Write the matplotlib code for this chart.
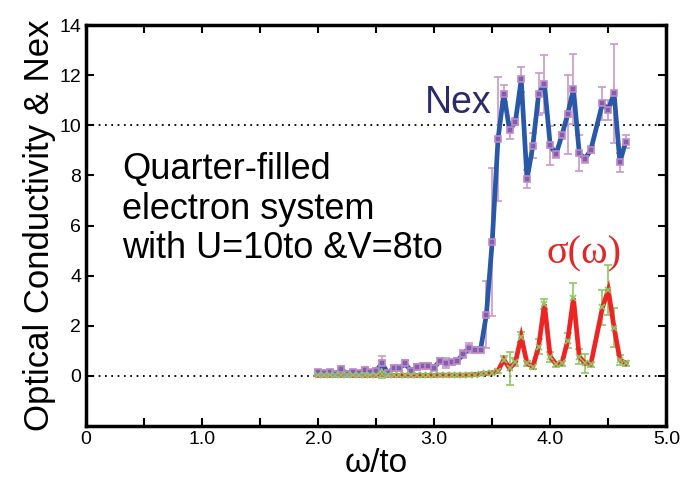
import matplotlib
matplotlib.use('Agg')
import matplotlib.pyplot as plt
from matplotlib.ticker import MultipleLocator

plt.rcParams['font.family'] = ['Liberation Sans', 'DejaVu Sans']

# Nex (blue line, purple squares)
nex_x = [2.00, 2.05, 2.10, 2.15, 2.20, 2.25, 2.30, 2.35, 2.40, 2.45,
         2.50, 2.55, 2.60, 2.65, 2.70, 2.75, 2.80, 2.85, 2.90, 2.95,
         3.00, 3.05, 3.10, 3.15, 3.20, 3.25, 3.30, 3.35, 3.40, 3.45,
         3.50, 3.55, 3.60, 3.65, 3.70, 3.75, 3.80, 3.85, 3.90, 3.95,
         4.00, 4.05, 4.10, 4.15, 4.20, 4.25, 4.30, 4.35, 4.45, 4.50,
         4.55, 4.60, 4.65]
nex_y = [0.15, 0.13, 0.14, 0.08, 0.27, 0.08, 0.15, 0.10, 0.25, 0.15,
         0.20, 0.50, 0.12, 0.30, 0.30, 0.50, 0.20, 0.35, 0.40, 0.40,
         0.33, 0.60, 0.50, 0.55, 0.60, 0.87, 1.10, 1.05, 1.05, 2.45,
         5.35, 9.45, 11.27, 9.80, 10.15, 11.83, 7.85, 9.18, 11.25, 11.65,
         9.20, 8.85, 9.60, 10.44, 11.45, 8.90, 8.65, 9.03, 10.88, 10.62,
         11.28, 8.52, 9.35]
nex_err = [0.10, 0.10, 0.10, 0.10, 0.12, 0.10, 0.10, 0.10, 0.12, 0.10,
           0.10, 0.28, 0.10, 0.12, 0.10, 0.15, 0.10, 0.12, 0.10, 0.10,
           0.10, 0.12, 0.20, 0.12, 0.10, 0.15, 0.20, 0.10, 0.10, 1.33,
           2.95, 2.48, 0.35, 0.33, 0.15, 0.50, 0.35, 0.50, 0.85, 1.17,
           0.78, 0.15, 0.15, 1.57, 1.40, 0.73, 0.15, 0.15, 0.67, 0.40,
           1.98, 0.37, 0.27]

# optical conductivity sigma(w) (red line, green stars)
sig_x = [2.00, 2.05, 2.10, 2.15, 2.20, 2.25, 2.30, 2.35, 2.40, 2.45,
         2.50, 2.55, 2.60, 2.65, 2.70, 2.75, 2.80, 2.85, 2.90, 2.95,
         3.00, 3.05, 3.10, 3.15, 3.20, 3.25, 3.30, 3.35, 3.40, 3.45,
         3.50, 3.55, 3.60, 3.65, 3.70, 3.75, 3.80, 3.85, 3.90, 3.95,
         4.00, 4.05, 4.10, 4.15, 4.20, 4.25, 4.30, 4.35, 4.45, 4.50,
         4.55, 4.60, 4.65]
sig_y = [0.02, 0.02, 0.02, 0.02, 0.02, 0.02, 0.02, 0.02, 0.02, 0.02,
         0.02, 0.08, 0.02, 0.02, 0.02, 0.02, 0.02, 0.02, 0.02, 0.02,
         0.02, 0.03, 0.03, 0.03, 0.03, 0.03, 0.04, 0.05, 0.08, 0.10,
         0.12, 0.20, 0.65, 0.30, 0.55, 1.57, 0.50, 0.37, 1.17, 2.86,
         0.77, 0.47, 0.50, 1.40, 3.10, 0.77, 0.50, 0.47, 2.73, 3.43,
         1.93, 0.65, 0.50]
sig_err = [0.03, 0.03, 0.03, 0.03, 0.03, 0.03, 0.03, 0.03, 0.03, 0.03,
           0.03, 0.15, 0.03, 0.03, 0.03, 0.03, 0.03, 0.03, 0.03, 0.03,
           0.03, 0.03, 0.03, 0.03, 0.03, 0.03, 0.05, 0.05, 0.05, 0.05,
           0.05, 0.08, 0.15, 0.67, 0.15, 0.20, 0.10, 0.10, 0.30, 0.20,
           0.20, 0.10, 0.10, 0.30, 0.60, 0.30, 0.37, 0.10, 0.70, 1.00,
           0.77, 0.20, 0.10]

xticks = [0, 1.0, 2.0, 3.0, 4.0, 5.0]
xticklabels = ['0', '1.0', '2.0', '3.0', '4.0', '5.0']
yticks = [0, 2, 4, 6, 8, 10, 12, 14]

fig = plt.figure(figsize=(6.82, 4.83), dpi=100)
ax = fig.add_axes([0.126, 0.118, 0.851, 0.830])

# dotted reference lines at 0 and 10
ax.axhline(0, color='black', ls=(0, (1, 2.5)), lw=1.3, zorder=1)
ax.axhline(10, color='black', ls=(0, (1, 2.5)), lw=1.3, zorder=1)

ax.errorbar(nex_x, nex_y, yerr=nex_err, fmt='none', ecolor='#c79ac9',
            elinewidth=1.2, capsize=3, capthick=1.2, zorder=2)
ax.plot(nex_x, nex_y, color='#2a58a8', lw=3.4, zorder=3)
ax.plot(nex_x, nex_y, ls='none', marker='s', ms=5, mfc='#7e5fb0',
        mec='#c08ac6', mew=1.2, zorder=4)

ax.errorbar(sig_x, sig_y, yerr=sig_err, fmt='none', ecolor='#8cc864',
            elinewidth=1.2, capsize=3, capthick=1.2, zorder=2)
ax.plot(sig_x, sig_y, color='#ee2424', lw=3.4, solid_joinstyle='miter', zorder=3)
ax.plot(sig_x, sig_y, ls='none', marker='x', ms=4, mec='#8cc864',
        mew=1.2, zorder=4)

ax.set_xlim(0, 5.0)
ax.set_ylim(-2, 14)
ax.set_xticks(xticks)
ax.set_xticklabels(xticklabels)
ax.xaxis.set_minor_locator(MultipleLocator(0.5))
ax.set_yticks(yticks)
ax.tick_params(which='both', direction='in', top=True, right=True,
               labelsize=14, width=1.5, length=6)
for s in ax.spines.values():
    s.set_linewidth(2.5)

ax.set_xlabel('ω/to', fontsize=24, labelpad=0)
ax.set_ylabel('Optical Conductivity & Nex', fontsize=25, labelpad=2)

ax.text(2.92, 10.5, 'Nex', fontsize=27, color='#2b2b6b')
ax.text(3.97, 4.5, 'σ(ω)', fontsize=29, color='#e02828',
        family=['Liberation Serif', 'DejaVu Serif'])
ax.text(0.31, 4.7, 'Quarter-filled\nelectron system\nwith U=10to &V=8to',
        fontsize=26, color='black', linespacing=1.17, va='baseline')

fig.savefig('out.png', dpi=100)
